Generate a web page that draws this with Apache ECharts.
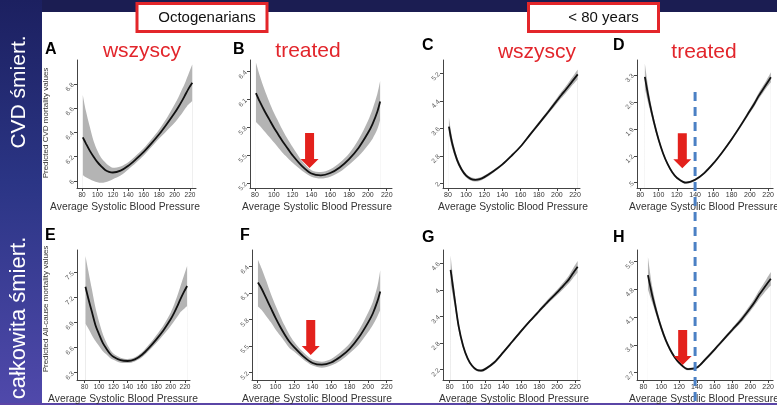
<!DOCTYPE html>
<html><head><meta charset="utf-8">
<script src="https://cdn.jsdelivr.net/npm/echarts@6/dist/echarts.min.js"></script>
<style>html,body{margin:0;padding:0;background:#fff;}#c{width:777px;height:405px;}</style>
</head><body><div id="c"></div>
<script>
// ---------- data ----------
const XS = [81, 85, 90, 95, 100, 105, 110, 115, 120, 130, 140, 150, 160, 170, 180, 190, 200, 205, 210, 213, 218, 223];
const X_TICKS = [80, 100, 120, 140, 160, 180, 200, 220];

const A_MID = [6.36, 6.31, 6.25, 6.20, 6.155, 6.12, 6.09, 6.075, 6.07, 6.085, 6.125, 6.18, 6.24, 6.31, 6.385, 6.47, 6.56, 6.61, 6.665, 6.70, 6.76, 6.81];
const A_LO  = [6.05, 6.03, 6.015, 6.0, 5.99, 5.985, 5.99, 6.0, 6.015, 6.045, 6.095, 6.15, 6.21, 6.28, 6.35, 6.415, 6.48, 6.52, 6.56, 6.59, 6.63, 6.66];
const A_HI  = [6.71, 6.58, 6.45, 6.33, 6.25, 6.19, 6.155, 6.125, 6.11, 6.12, 6.155, 6.21, 6.27, 6.345, 6.425, 6.52, 6.63, 6.69, 6.76, 6.80, 6.88, 6.96];
const A_YT  = [6, 6.2, 6.4, 6.6, 6.8];

const B_MID = [6.17, 6.08, 5.98, 5.89, 5.80, 5.72, 5.64, 5.57, 5.50, 5.385, 5.305, 5.285, 5.31, 5.37, 5.46, 5.58, 5.74, 5.84, 5.97, 6.08, null, null];
const B_LO  = [5.86, 5.82, 5.76, 5.70, 5.64, 5.58, 5.52, 5.47, 5.42, 5.335, 5.27, 5.25, 5.27, 5.32, 5.40, 5.49, 5.61, 5.68, 5.78, 5.88, null, null];
const B_HI  = [6.50, 6.36, 6.21, 6.08, 5.96, 5.86, 5.76, 5.67, 5.59, 5.44, 5.34, 5.32, 5.35, 5.42, 5.52, 5.67, 5.87, 6.00, 6.16, 6.30, null, null];
const B_YT  = [5.2, 5.5, 5.8, 6.1, 6.4];

const C_MID = [3.65, 3.12, 2.68, 2.40, 2.22, 2.13, 2.10, 2.12, 2.18, 2.35, 2.55, 2.80, 3.07, 3.40, 3.73, 4.06, 4.40, 4.57, 4.73, 4.83, 5.00, 5.17];
const C_LO  = [3.42, 2.98, 2.60, 2.34, 2.17, 2.08, 2.05, 2.07, 2.13, 2.31, 2.52, 2.77, 3.04, 3.36, 3.68, 4.00, 4.32, 4.48, 4.63, 4.72, 4.88, 5.03];
const C_HI  = [3.92, 3.28, 2.77, 2.47, 2.28, 2.18, 2.15, 2.17, 2.23, 2.39, 2.58, 2.83, 3.10, 3.44, 3.78, 4.12, 4.48, 4.66, 4.83, 4.94, 5.12, 5.31];
const C_YT  = [2, 2.8, 3.6, 4.4, 5.2];

const D_MID = [null, 3.25, 2.60, 2.07, 1.62, 1.26, 0.98, 0.77, 0.63, 0.50, 0.575, 0.75, 1.00, 1.30, 1.63, 1.99, 2.37, 2.56, 2.77, 2.88, 3.06, 3.24];
const D_LO  = [null, 2.95, 2.44, 1.98, 1.56, 1.21, 0.94, 0.74, 0.60, 0.47, 0.545, 0.72, 0.97, 1.27, 1.59, 1.94, 2.31, 2.49, 2.69, 2.79, 2.96, 3.11];
const D_HI  = [null, 3.60, 2.78, 2.17, 1.69, 1.31, 1.02, 0.80, 0.66, 0.53, 0.605, 0.78, 1.03, 1.33, 1.67, 2.04, 2.43, 2.63, 2.85, 2.97, 3.16, 3.37];
const D_YT  = [0.5, 1.2, 1.9, 2.6, 3.3];

const E_MID = [7.33, 7.19, 7.03, 6.87, 6.76, 6.66, 6.59, 6.53, 6.49, 6.45, 6.44, 6.46, 6.515, 6.60, 6.70, 6.81, 6.94, 7.02, 7.11, 7.17, 7.26, 7.34];
const E_LO  = [6.89, 6.83, 6.75, 6.68, 6.62, 6.56, 6.52, 6.48, 6.455, 6.42, 6.415, 6.435, 6.485, 6.565, 6.655, 6.755, 6.86, 6.92, 6.98, 7.02, 7.06, 7.10];
const E_HI  = [7.70, 7.52, 7.30, 7.08, 6.91, 6.77, 6.665, 6.585, 6.53, 6.48, 6.465, 6.485, 6.545, 6.64, 6.75, 6.87, 7.02, 7.12, 7.24, 7.32, 7.45, 7.58];
const E_YT  = [6.3, 6.6, 6.9, 7.2, 7.5];

const F_MID = [6.22, 6.15, 6.04, 5.93, 5.82, 5.72, 5.63, 5.55, 5.49, 5.385, 5.31, 5.29, 5.315, 5.38, 5.47, 5.60, 5.77, 5.87, 6.01, 6.12, null, null];
const F_LO  = [5.95, 5.91, 5.84, 5.77, 5.69, 5.62, 5.55, 5.48, 5.44, 5.35, 5.28, 5.255, 5.28, 5.335, 5.42, 5.52, 5.66, 5.74, 5.84, 5.91, null, null];
const F_HI  = [6.48, 6.38, 6.24, 6.09, 5.96, 5.84, 5.73, 5.63, 5.55, 5.43, 5.345, 5.325, 5.355, 5.43, 5.53, 5.68, 5.88, 6.00, 6.18, 6.36, null, null];
const F_YT  = [5.2, 5.5, 5.8, 6.1, 6.4];

const G_MID = [4.45, 3.87, 3.17, 2.73, 2.45, 2.28, 2.19, 2.17, 2.21, 2.36, 2.59, 2.83, 3.07, 3.30, 3.52, 3.74, 3.94, 4.05, 4.16, 4.23, 4.38, 4.52];
const G_LO  = [4.15, 3.70, 3.07, 2.67, 2.41, 2.25, 2.16, 2.14, 2.18, 2.33, 2.56, 2.80, 3.04, 3.27, 3.48, 3.69, 3.88, 3.98, 4.08, 4.14, 4.27, 4.39];
const G_HI  = [4.78, 4.05, 3.27, 2.79, 2.49, 2.31, 2.22, 2.20, 2.24, 2.39, 2.62, 2.86, 3.10, 3.33, 3.56, 3.79, 4.00, 4.12, 4.24, 4.32, 4.49, 4.65];
const G_YT  = [2.2, 2.8, 3.4, 4, 4.6];

const H_MID = [null, 5.16, 4.63, 4.20, 3.83, 3.52, 3.28, 3.09, 2.95, 2.79, 2.83, 3.05, 3.29, 3.54, 3.79, 4.04, 4.33, 4.49, 4.67, 4.76, 4.92, 5.07];
const H_LO  = [null, 4.80, 4.45, 4.10, 3.76, 3.47, 3.24, 3.05, 2.92, 2.76, 2.80, 3.01, 3.25, 3.50, 3.74, 3.97, 4.25, 4.40, 4.56, 4.64, 4.78, 4.90];
const H_HI  = [null, 5.62, 4.85, 4.32, 3.91, 3.58, 3.32, 3.13, 2.98, 2.82, 2.86, 3.09, 3.33, 3.58, 3.84, 4.11, 4.42, 4.59, 4.78, 4.88, 5.06, 5.24];
const H_YT  = [2.7, 3.4, 4.1, 4.8, 5.5];

const LETTERS = ['A', 'B', 'C', 'D', 'E', 'F', 'G', 'H'];
const SUBTITLES = ['wszyscy', 'treated', 'wszyscy', 'treated'];
const GROUPS = ['Octogenarians', '< 80 years'];
const ROW_LABELS = ['CVD śmiert.', 'całkowita śmiert.'];
const X_NAME = 'Average Systolic Blood Pressure';
const Y_NAMES = ['Predicted CVD mortality values', 'Predicted All-cause mortality values'];
// arrows: panel index, x, y value at arrow tip
const ARROW_PANEL = [1, 3, 5, 7];
const ARROW_X = [138, 126, 138, 124];
const ARROW_Y = [5.365, 0.874, 5.40, 2.894];
// dashed reference line: x value and top value in panel D
const REF_X = 140;
const REF_TOP_D = 2.86;

// ---------- layout (positions, not data) ----------
const PANELS = [
  {mid: A_MID, lo: A_LO, hi: A_HI, yt: A_YT},
  {mid: B_MID, lo: B_LO, hi: B_HI, yt: B_YT},
  {mid: C_MID, lo: C_LO, hi: C_HI, yt: C_YT},
  {mid: D_MID, lo: D_LO, hi: D_HI, yt: D_YT},
  {mid: E_MID, lo: E_LO, hi: E_HI, yt: E_YT},
  {mid: F_MID, lo: F_LO, hi: F_HI, yt: F_YT},
  {mid: G_MID, lo: G_LO, hi: G_HI, yt: G_YT},
  {mid: H_MID, lo: H_LO, hi: H_HI, yt: H_YT}
];
const LAYOUT = [
  {left: 77,  top: 60,  width: 119, height: 128, xmin: 73.5, xmax: 227.8, ymin: 5.942, ymax: 6.998, xfs: 6.5},
  {left: 250, top: 60,  width: 142, height: 128, xmin: 74.7, xmax: 225.6, ymin: 5.149, ymax: 6.526, xfs: 7},
  {left: 443, top: 60,  width: 137, height: 128, xmin: 74.5, xmax: 225.5, ymin: 1.863, ymax: 5.587, xfs: 7},
  {left: 637, top: 60,  width: 138, height: 128, xmin: 76.4, xmax: 225.4, ymin: 0.362, ymax: 3.69,  xfs: 7},
  {left: 77,  top: 250, width: 113, height: 130, xmin: 69.2, xmax: 227,   ymin: 6.212, ymax: 7.772, xfs: 6.5},
  {left: 252, top: 250, width: 140, height: 130, xmin: 74.6, xmax: 225.7, ymin: 5.117, ymax: 6.589, xfs: 7},
  {left: 443, top: 250, width: 137, height: 130, xmin: 72.5, xmax: 225.6, ymin: 1.958, ymax: 4.901, xfs: 7},
  {left: 637, top: 250, width: 138, height: 130, xmin: 72.7, xmax: 225.5, ymin: 2.516, ymax: 5.795, xfs: 7}
];
const LETTER_POS = [[45,50],[233,50],[422,46],[613,46],[45,236],[240,236],[422,238],[613,238]];
const SUB_POS = [[142,51],[308,51],[537,52],[704,52]];
const XNAME_POS = [[125,207],[317,207],[513,207],[704,207],[123,399],[317,399],[514,399],[704,399]];

const FONT = '"Liberation Sans", Arial, Helvetica, sans-serif';
const ARROW_PATH = 'path://M4.5,0 L13.5,0 L13.5,26 L18,26 L9,35 L0,26 L4.5,26 Z';
const BAND_GRAY = '#b4b4b4';

const chart = echarts.init(document.getElementById('c'), null, {renderer: 'canvas'});
const grids = [], xAxes = [], yAxes = [], series = [];
const fmt = v => String(+v.toFixed(2)).replace(/^0\./, '.');
PANELS.forEach((p, i) => {
  const L = LAYOUT[i];
  grids.push({left: L.left, top: L.top, width: L.width, height: L.height});
  xAxes.push({
    type: 'value', gridIndex: i, min: L.xmin, max: L.xmax, z: 10,
    axisLine: {show: true, onZero: false, lineStyle: {color: '#444', width: 1}},
    axisTick: {show: true, customValues: X_TICKS, length: 3, lineStyle: {color: '#444'}},
    axisLabel: {customValues: X_TICKS, fontSize: L.xfs, color: '#333', margin: 4, fontFamily: FONT},
    splitLine: {show: false}
  });
  yAxes.push({
    type: 'value', gridIndex: i, min: L.ymin, max: L.ymax, z: 10,
    axisLine: {show: true, onZero: false, lineStyle: {color: '#444', width: 1}},
    axisTick: {show: true, customValues: p.yt, length: 3, lineStyle: {color: '#444'}},
    axisLabel: {customValues: p.yt, rotate: 45, fontSize: 6.5, color: '#555', margin: 4, formatter: fmt, fontFamily: FONT},
    splitLine: {show: false}
  });
  const base = {type: 'line', xAxisIndex: i, yAxisIndex: i, symbol: 'none', silent: true, animation: false, smooth: 0.3, connectNulls: false};
  // upper bound filled gray down to axis, lower bound masked white down to axis -> gray band between
  series.push(Object.assign({}, base, {
    data: XS.map((x, k) => [x, p.hi[k]]), z: 1,
    lineStyle: {opacity: 0, width: 0}, areaStyle: {color: BAND_GRAY, opacity: 1, origin: 'start'}
  }));
  series.push(Object.assign({}, base, {
    data: XS.map((x, k) => [x, p.lo[k]]), z: 2,
    lineStyle: {opacity: 0, width: 0}, areaStyle: {color: '#ffffff', opacity: 1, origin: 'start'}
  }));
  const mid = Object.assign({}, base, {
    data: XS.map((x, k) => [x, p.mid[k]]), z: 3,
    lineStyle: {color: '#111', width: 1.8}
  });
  const ai = ARROW_PANEL.indexOf(i);
  if (ai >= 0) {
    mid.markPoint = {
      symbol: ARROW_PATH, symbolSize: [18, 35], symbolOffset: [0, '-50%'], silent: true, animation: false,
      itemStyle: {color: '#e3211c'}, label: {show: false},
      data: [{coord: [ARROW_X[ai], ARROW_Y[ai]]}]
    };
  }
  series.push(mid);
});

chart.setOption({
  animation: false,
  textStyle: {fontFamily: FONT},
  grid: grids, xAxis: xAxes, yAxis: yAxes, series: series
});

// ---------- decorations ----------
const gfx = [];
gfx.push({type: 'rect', shape: {x: 0, y: 0, width: 777, height: 12}, style: {fill: '#1b1d52'}, z: -10});
gfx.push({type: 'rect', shape: {x: 0, y: 0, width: 42, height: 405},
  style: {fill: new echarts.graphic.LinearGradient(0, 0, 0, 1, [
    {offset: 0, color: '#1c2060'}, {offset: 0.45, color: '#2b3585'}, {offset: 1, color: '#5049ab'}])}, z: -10});
gfx.push({type: 'rect', shape: {x: 0, y: 403, width: 777, height: 2}, style: {fill: '#5a45a6'}, z: -10});
ROW_LABELS.forEach((t, r) => {
  gfx.push({type: 'text', x: 19, y: r === 0 ? 92 : 318, rotation: Math.PI / 2,
    style: {text: t, fill: '#ffffff', font: (r === 0 ? '21px ' : '22px ') + FONT, textAlign: 'center', textVerticalAlign: 'middle'}, z: 10});
});
// group boxes
const BOX_X = [137, 528.5];
GROUPS.forEach((t, g) => {
  gfx.push({type: 'rect', shape: {x: BOX_X[g], y: 3.5, width: 130, height: 28},
    style: {fill: '#ffffff', stroke: '#e3262a', lineWidth: 3}, z: 10});
  gfx.push({type: 'text', x: BOX_X[g] + (g === 0 ? 70 : 75), y: 18,
    style: {text: t, fill: '#111', font: '15px ' + FONT, textAlign: 'center', textVerticalAlign: 'middle'}, z: 11});
});
LETTERS.forEach((t, i) => {
  gfx.push({type: 'text', x: LETTER_POS[i][0], y: LETTER_POS[i][1],
    style: {text: t, fill: '#000', font: 'bold 16px ' + FONT, textAlign: 'left', textVerticalAlign: 'middle'}, z: 10});
});
SUBTITLES.forEach((t, i) => {
  gfx.push({type: 'text', x: SUB_POS[i][0], y: SUB_POS[i][1],
    style: {text: t, fill: '#e2252b', font: '21px ' + FONT, textAlign: 'center', textVerticalAlign: 'middle'}, z: 10});
});
XNAME_POS.forEach((pos, i) => {
  gfx.push({type: 'text', x: pos[0], y: pos[1],
    style: {text: X_NAME, fill: '#333', font: '10.3px ' + FONT, textAlign: 'center', textVerticalAlign: 'middle'}, z: 10});
});
Y_NAMES.forEach((t, r) => {
  gfx.push({type: 'text', x: 46, y: r === 0 ? 123 : 309, rotation: Math.PI / 2,
    style: {text: t, fill: '#333', font: '8px ' + FONT, textAlign: 'center', textVerticalAlign: 'middle'}, z: 10});
});
const refTop = chart.convertToPixel({gridIndex: 3}, [REF_X, REF_TOP_D]);
gfx.push({type: 'line', shape: {x1: refTop[0], y1: refTop[1], x2: refTop[0], y2: 405},
  style: {stroke: '#4b80c4', lineWidth: 3, lineDash: [9, 6]}, z: 100});
chart.setOption({graphic: gfx});
</script>
</body></html>
